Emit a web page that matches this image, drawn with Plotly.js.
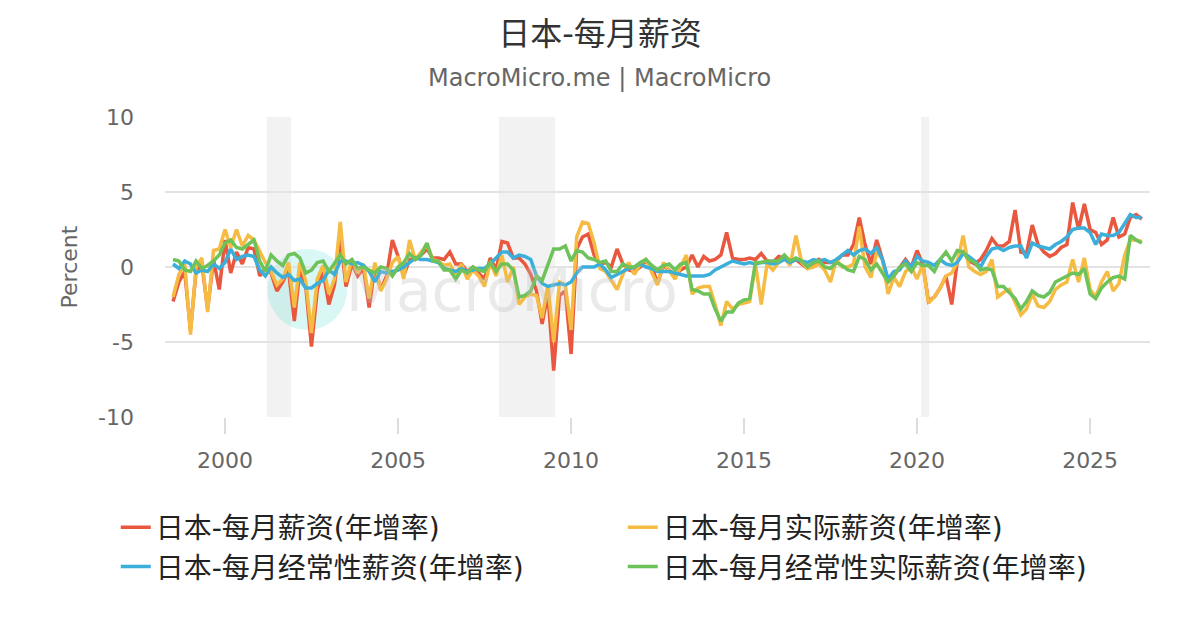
<!DOCTYPE html>
<html>
<head>
<meta charset="utf-8">
<script src="https://cdn.plot.ly/plotly-3.0.1.min.js"></script>
<style>html,body{margin:0;padding:0;background:#fff;}#chart{width:1200px;height:630px;}</style>
</head>
<body>
<div id="chart"></div>
<script>
// Series names
const seriesNames = ['日本-每月薪资(年增率)', '日本-每月实际薪资(年增率)', '日本-每月经常性薪资(年增率)', '日本-每月经常性实际薪资(年增率)'];
// Sampling: every second month starting July 1998
const startYear = 1998, startMonth = 7, stepMonths = 2;

// 日本-每月薪资(年增率)
const wages = [
  -2.3, -1.0, -0.3,
  -4.2, -0.3, 0.2, -2.8, 0.5, -1.5,
  1.8, -0.4, 1.0, 0.2, 1.3, 1.2,
  -0.6, -0.1, -0.4, -1.6, -1.0, -0.2,
  -3.6, -0.2, -1.2, -5.3, -1.5, -0.3,
  -2.5, -1.2, 2.0, -1.3, 0.2, -0.6,
  -0.1, -2.7, 0.0, -1.5, -0.6, 1.8,
  0.7, -0.6, 0.5, 0.5, 0.8, 1.2,
  0.6, 0.6, 0.5, 1.0, 0.2, 0.2,
  -0.3, 0.0, -0.4, -0.8, 0.6, -0.2,
  1.7, 1.6, 0.6, 0.6, 0.2, -0.5,
  -1.6, -3.8, -1.8, -6.9, -1.9, -1.6,
  -5.8, 1.2, 2.0, 2.2, 0.8, 0.2,
  0.3, 0.0, 1.2, 0.2, -0.2, -0.3,
  0.0, 0.4, 0.1, -1.1, 0.1, -0.2,
  -0.6, -0.2, 0.0, 0.8, 0.0, 0.7,
  0.4, 0.5, 0.8, 2.3, 0.6, 0.5,
  0.5, 0.6, 0.5, 0.9, 0.4, 0.3,
  0.7, 0.6, 0.3, 0.5, 0.2, -0.1,
  0.1, 0.5, 0.3, 0.3, 0.4, 0.8,
  0.8, 1.5, 3.3, 1.5, 0.2, 1.8,
  0.5, -1.0, -0.6, -0.1, 0.5, 0.0,
  1.1, 0.2, -2.3, -2.0, -1.4, -0.6,
  -2.5, 0.4, 1.1, 0.4, 0.2, 0.5,
  1.1, 1.9, 1.4, 1.4, 1.7, 3.8,
  1.0, 0.9, 2.8, 1.5, 1.0, 0.7,
  0.9, 1.3, 1.5, 4.3, 2.5, 4.2,
  2.5, 2.3, 1.5, 1.8, 3.3, 2.0,
  2.2, 3.3, 3.5, 3.2
];
// 日本-每月实际薪资(年增率)
const realWages = [
  -2.0, -0.5, 0.2,
  -4.5, 0.0, 0.6, -3.0, 1.1, 1.2,
  2.5, 1.3, 2.5, 1.4, 2.1, 1.8,
  1.0, 0.3, -0.3, -1.2, -0.8, 0.3,
  -2.7, 0.3, -0.9, -4.4, -0.8, 0.1,
  -1.8, -0.8, 3.0, -1.0, 0.5, -0.4,
  0.2, -2.1, 0.3, -1.6, -0.8, 0.3,
  0.7, -0.8, 1.8, 0.5, 1.0, 1.5,
  0.5, 0.4, 0.1, 0.2, -0.5, 0.2,
  -0.8, -0.2, -0.6, -1.3, 0.3, -0.6,
  0.8, -1.0, 0.0, -2.5, -2.0, -1.8,
  -1.9, -3.4, -1.2, -5.0, -1.0, -1.2,
  -4.2, 2.0, 3.0, 2.9, 1.6, -0.1,
  -0.3, -0.9, -1.5, -0.5, 0.3, -0.5,
  0.2, 0.5, -0.3, -1.2, 0.3, -0.3,
  -0.8, 0.0, 0.8, -1.8, -1.4, -1.3,
  -1.3, -2.5, -3.9, -2.3, -2.8, -2.5,
  -2.4, -2.3, 0.2, -2.5, 0.2, -0.2,
  0.3, 0.6, 0.1, 2.1, 0.3, -0.1,
  0.0, 0.2, -0.2, -1.0, 0.5, 0.0,
  0.0, 0.2, 2.7, 0.0, -0.7, 1.0,
  0.5, -1.8, -0.7, -1.3, -0.3, 0.0,
  -0.8, 0.2, -2.4, -2.0, -1.4, -0.6,
  -0.4, 0.3, 2.1, 0.0, -0.3, -0.5,
  -0.3, 0.5, -2.0, -1.7, -1.5, -2.3,
  -3.2, -2.8, -1.8, -2.6, -2.7, -2.3,
  -1.5, -1.2, -1.0, 0.5, -1.0, 0.6,
  -1.5, -2.0, -1.0, -0.3, -1.6, -1.1,
  0.8, 1.8, 1.8, 1.7
];
// 日本-每月经常性薪资(年增率)
const regularWages = [
  0.2, -0.1, 0.4,
  0.2, -0.4, -0.2, -0.3, 0.2, -0.1,
  0.3, 1.2, 0.5, 0.7, 0.8, 0.7,
  -0.2, -0.6, 0.0, -0.4, -0.7, -0.5,
  -0.9, -0.8, -1.4, -1.4, -1.1, -0.9,
  -0.2, -0.5, 0.4, 0.4, 0.2, 0.3,
  0.1, -0.3, -1.0, -0.3, -0.4, -0.3,
  -0.2, 0.0, 0.3, 0.6, 0.5, 0.5,
  0.4, 0.3, -0.1, -0.2, -0.3, -0.1,
  -0.3, -0.2, -0.1, -0.1, 0.2, 0.6,
  1.0, 1.0, 0.6, 0.8, 0.7, 0.5,
  -0.6, -1.1, -1.3, -1.2, -1.1, -1.2,
  -1.0, -0.4, 0.0, 0.0, 0.0, 0.2,
  -0.2, -0.7, -0.5, -0.3, -0.1, 0.0,
  0.2, 0.0, -0.1, -0.3, -0.3, -0.3,
  -0.4, -0.5, -0.6, -0.6, -0.6, -0.6,
  -0.5, -0.2, 0.0, 0.2, 0.4, 0.3,
  0.2, 0.3, 0.2, 0.3, 0.3, 0.2,
  0.3, 0.5, 0.3, 0.5, 0.4, 0.3,
  0.5, 0.4, 0.5, 0.3, 0.5, 0.8,
  1.1, 0.8, 1.1, 1.2, 0.9, 1.3,
  0.5, -0.8, -0.3, -0.2, 0.4, 0.0,
  0.7, 0.4, 0.3, 0.1, 0.5, 0.2,
  0.1, 0.3, 0.9, 0.7, 0.4, 0.0,
  0.7, 1.2, 1.3, 1.1, 1.3, 1.4,
  1.4, 0.6, 1.6, 1.4, 1.3, 1.2,
  1.5, 1.7, 2.0, 2.5, 2.6, 2.6,
  2.3, 1.5, 2.2, 2.1, 2.1, 2.3,
  2.9, 3.5, 3.3, 3.3
];
// 日本-每月经常性实际薪资(年增率)
const regularRealWages = [
  0.5, 0.4, -0.2,
  -0.3, 0.4, -0.1, 0.1, 0.4, 0.8,
  1.6, 1.8, 1.3, 1.2, 1.5, 1.8,
  0.4, -0.3, 0.8, 0.4, 0.1, 0.8,
  0.9, 0.6, -0.4, -0.2, 0.3, 0.4,
  -0.3, 0.2, 0.8, 0.2, 0.5, -0.1,
  0.0, -0.2, -0.4, 0.0, -0.1, -0.6,
  0.0, 0.3, 0.9, 0.5, 0.8, 1.6,
  0.4, 0.4, -0.2, -0.2, -0.8, -0.2,
  -0.4, 0.0, -0.2, -0.3, 0.3, -0.3,
  0.2, 0.2, -0.2, -2.0, -1.9, -1.6,
  -0.6, -0.9, 0.2, 1.2, 1.2, 1.4,
  0.4, 1.1, 1.0, 0.6, 0.5, 0.3,
  0.4, -0.3, -0.3, 0.2, 0.0, 0.0,
  0.3, 0.5, 0.1, -0.2, 0.1, 0.2,
  -0.2, 0.2, 0.3, -1.5, -1.6, -1.8,
  -1.8, -2.8, -3.6, -3.0, -3.0, -2.4,
  -2.2, -2.1, 0.3, 0.3, 0.4, 0.4,
  0.4, 0.8, 0.4, 0.6, 0.4, 0.0,
  0.3, 0.4, 0.0, -0.1, 0.3, 0.1,
  -0.2, -0.3, 0.7, 0.5, -0.2, 0.2,
  -0.4, -1.0, -0.6, 0.0, 0.2, -0.3,
  0.3, 0.1, 0.1, -0.3, 0.5, 1.0,
  0.4, 1.1, 1.0, 0.5, 0.3, -0.2,
  -0.1, -0.2, -1.3, -1.3, -1.7, -2.1,
  -2.8, -2.3, -1.6, -1.9, -2.0, -1.7,
  -1.0, -0.8, -0.6, -0.4, -0.5, -0.1,
  -1.8, -2.1, -1.4, -1.0, -0.7, -0.6,
  -0.8, 2.1, 1.8, 1.6
];
// Recession periods (shaded)
const recessionStart = ['2001-03-17', '2007-12-01', '2020-02-13'];
const recessionEnd = ['2001-11-27', '2009-07-15', '2020-05-08'];
// Axis ticks
const yearTicks = ['2000-01-01', '2005-01-01', '2010-01-01', '2015-01-01', '2020-01-01', '2025-01-01'];
const yearTickLabels = ['2000', '2005', '2010', '2015', '2020', '2025'];
const yTicks = [-10, -5, 0, 5, 10];
const yTickLabels = ['-10', '-5', '0', '5', '10'];

function buildDates(n) {
  const out = [];
  for (let i = 0; i < n; i++) {
    const m = (startMonth - 1) + i * stepMonths;
    const y = startYear + Math.floor(m / 12);
    const mm = (m % 12) + 1;
    out.push(y + '-' + (mm < 10 ? '0' : '') + mm + '-01');
  }
  return out;
}
const dates = buildDates(wages.length);

const colors = ['#E9573F', '#F6BB42', '#3BAFDA', '#6DC25A'];
const seriesValues = [wages, realWages, regularWages, regularRealWages];
const traces = seriesValues.map((vals, i) => ({
  type: 'scatter', mode: 'lines', x: dates, y: vals, name: seriesNames[i],
  line: {color: colors[i], width: 3.5}, hoverinfo: 'skip'
}));

const font = 'DejaVu Sans, Noto Sans CJK SC, sans-serif';
const shapes = recessionStart.map((s, i) => ({
  type: 'rect', xref: 'x', yref: 'paper', x0: s, x1: recessionEnd[i], y0: 0, y1: 1,
  fillcolor: '#f2f2f2', line: {width: 0}, layer: 'below'
}));
// watermark circle
shapes.push({type: 'circle', xref: 'paper', yref: 'paper', x0: 0.104, x1: 0.185, y0: 0.29, y1: 0.56,
  fillcolor: 'rgba(120,225,215,0.28)', line: {width: 0}, layer: 'below'});

const layout = {
  width: 1200, height: 630,
  margin: {l: 165, r: 50, t: 117, b: 213},
  paper_bgcolor: '#fff', plot_bgcolor: '#fff',
  font: {family: font, color: '#666'},
  title: {text: '日本-每月薪资', font: {family: font, size: 32, color: '#333'}, x: 0.5, xanchor: 'center', y: 0.947, yanchor: 'middle'},
  showlegend: true,
  legend: {orientation: 'h', x: -0.05, xanchor: 'left', y: -0.285, yanchor: 'top',
    font: {family: font, size: 28, color: '#222'}, entrywidth: 462, entrywidthmode: 'pixels', itemwidth: 30, traceorder: 'normal'},
  xaxis: {type: 'date', range: ['1998-04-07', '2026-09-25'], showgrid: false, zeroline: false,
    tickvals: yearTicks, ticktext: yearTickLabels, ticks: 'outside', ticklen: 16, tickcolor: '#dddddd', tickwidth: 2,
    ticklabelstandoff: 8,
    tickfont: {family: font, size: 22, color: '#666'}, showline: false, fixedrange: true},
  yaxis: {range: [-10, 10], tickvals: yTicks, ticktext: yTickLabels, showgrid: true, gridcolor: '#e3e3e3', gridwidth: 2, zeroline: false,
    tickfont: {family: font, size: 22, color: '#666'}, ticks: '', ticklabelstandoff: 30,
    title: {text: 'Percent', font: {family: font, size: 22, color: '#666'}, standoff: 14}, fixedrange: true},
  shapes: shapes,
  annotations: [
    {text: 'MacroMicro.me | MacroMicro', xref: 'paper', yref: 'paper', x: 0.4416, y: 1.13, xanchor: 'center', yanchor: 'middle',
      showarrow: false, font: {family: font, size: 24, color: '#666'}},
    {text: 'MacroMicro', xref: 'paper', yref: 'paper', x: 0.352, y: 0.42, xanchor: 'center', yanchor: 'middle',
      showarrow: false, font: {family: font, size: 58, color: 'rgba(190,190,190,0.33)'}}
  ],
  hovermode: false
};

Plotly.newPlot('chart', traces, layout, {staticPlot: true, displayModeBar: false});
</script>
</body>
</html>
